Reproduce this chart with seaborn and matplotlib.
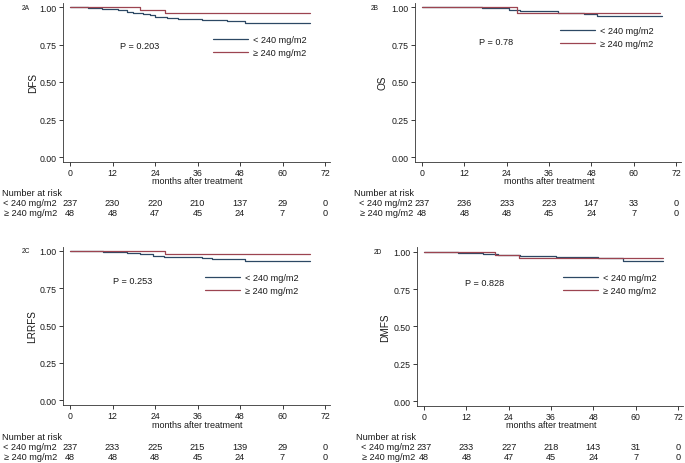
import numpy as np
import pandas as pd
import matplotlib
matplotlib.use("Agg")
import matplotlib.pyplot as plt
import seaborn as sns
from matplotlib.transforms import blended_transform_factory

# ---------------- data ----------------
groups = ["< 240 mg/m2", "≥ 240 mg/m2"]
risk_months = [0, 12, 24, 36, 48, 60, 72]

dfs_low_t = [0, 5, 9, 11.3, 13.6, 16, 17.8, 20.6, 22.6, 24, 27.4, 30.5, 37.2, 44.2, 49.4, 67.8]
dfs_low_s = [1.0, 0.996, 0.99, 0.984, 0.977, 0.968, 0.96, 0.951, 0.944, 0.935, 0.928, 0.918, 0.911, 0.904, 0.891, 0.891]
dfs_high_t = [0, 19.8, 26.8, 67.8]
dfs_high_s = [1.0, 0.978, 0.958, 0.958]
dfs_risk_low = [237, 230, 220, 210, 137, 29, 0]
dfs_risk_high = [48, 48, 47, 45, 24, 7, 0]

os_low_t = [0, 12.7, 17, 24.6, 27.8, 38.5, 46, 49.6, 68]
os_low_s = [1.0, 0.997, 0.992, 0.981, 0.972, 0.963, 0.956, 0.937, 0.937]
os_high_t = [0, 26.8, 67.5]
os_high_s = [1.0, 0.958, 0.958]
os_risk_low = [237, 236, 233, 223, 147, 33, 0]
os_risk_high = [48, 48, 48, 45, 24, 7, 0]

lrrfs_low_t = [0, 9.3, 12.1, 16, 19.8, 23.5, 26.5, 30, 37.2, 40, 49.4, 67.8]
lrrfs_low_s = [1.0, 0.995, 0.991, 0.985, 0.978, 0.969, 0.963, 0.958, 0.951, 0.945, 0.933, 0.933]
lrrfs_high_t = [0, 26.8, 67.8]
lrrfs_high_s = [1.0, 0.98, 0.98]
lrrfs_risk_low = [237, 233, 225, 215, 139, 29, 0]
lrrfs_risk_high = [48, 48, 48, 45, 24, 7, 0]

dmfs_low_t = [0, 5.4, 9.6, 16.7, 21, 24.3, 27.2, 37.4, 49.3, 56.4, 67.8]
dmfs_low_s = [1.0, 0.997, 0.992, 0.986, 0.981, 0.976, 0.971, 0.965, 0.955, 0.937, 0.937]
dmfs_high_t = [0, 20, 27, 67.8]
dmfs_high_s = [1.0, 0.979, 0.958, 0.958]
dmfs_risk_low = [237, 233, 227, 218, 143, 31, 0]
dmfs_risk_high = [48, 48, 47, 45, 24, 7, 0]

p_values = ["P = 0.203", "P = 0.78", "P = 0.253", "P = 0.828"]
endpoints = ["DFS", "OS", "LRRFS", "DMFS"]
tags = ["2A", "2B", "2C", "2D"]

# ---------------- style ----------------
sns.set_theme(style="white")
plt.rcParams["font.family"] = ["Liberation Sans", "DejaVu Sans"]
TXT = "#1a1a1a"
palette = {groups[0]: "#2c4864", "≥ 240 mg/m2": "#9c4450"}

W, H = 685, 464
fig = plt.figure(figsize=(W / 100, H / 100), dpi=100)
fig.patch.set_facecolor("white")

panel_data = [
    (dfs_low_t, dfs_low_s, dfs_high_t, dfs_high_s, dfs_risk_low, dfs_risk_high),
    (os_low_t, os_low_s, os_high_t, os_high_s, os_risk_low, os_risk_high),
    (lrrfs_low_t, lrrfs_low_s, lrrfs_high_t, lrrfs_high_s, lrrfs_risk_low, lrrfs_risk_high),
    (dmfs_low_t, dmfs_low_s, dmfs_high_t, dmfs_high_s, dmfs_risk_low, dmfs_risk_high),
]

layout = [
    dict(left=63, width=267, top=3.5, bottom=162.5, p=(14.1, 0.742), leg=(0.738, 0.726), yl=30, tag=22, rl=-3.7),
    dict(left=415, width=266, top=3.5, bottom=162.5, p=(16.2, 0.771), leg=(0.722, 0.783), yl=33, tag=371, rl=-2.6),
    dict(left=63, width=267, top=247.5, bottom=405.8, p=(12.2, 0.799), leg=(0.707, 0.763), yl=30.7, tag=22, rl=-3.7),
    dict(left=417, width=266, top=248.2, bottom=406.5, p=(11.5, 0.792), leg=(0.726, 0.768), yl=31.7, tag=374, rl=-2.6),
]

FS = 6.6
for i, (lay, dat) in enumerate(zip(layout, panel_data)):
    lt, ls, ht, hs, rlow, rhigh = dat
    hpx = lay["bottom"] - lay["top"]
    ax = fig.add_axes([lay["left"] / W, 1 - lay["bottom"] / H, lay["width"] / W, hpx / H])
    df = pd.DataFrame({
        "time": list(lt) + list(ht),
        "surv": list(ls) + list(hs),
        "group": [groups[0]] * len(lt) + [groups[1]] * len(ht),
    })
    sns.lineplot(data=df, x="time", y="surv", hue="group", hue_order=groups,
                 palette=palette, estimator=None, drawstyle="steps-post",
                 linewidth=0.9, legend=False, ax=ax)
    ax.set_xlim(-1.98, 73.4)
    ax.set_ylim(-0.03, 1.03)
    ax.set_xticks(risk_months)
    ax.set_yticks([0, 0.25, 0.5, 0.75, 1.0])
    ax.set_yticklabels([f"{v:.2f}" for v in [0, 0.25, 0.5, 0.75, 1.0]])
    ax.tick_params(bottom=True, left=True, direction="out", length=3, width=0.6,
                   pad=1.5, labelsize=6.3, colors=TXT)
    for s in ["top", "right"]:
        ax.spines[s].set_visible(False)
    for s in ["left", "bottom"]:
        ax.spines[s].set_color("#333333")
        ax.spines[s].set_linewidth(0.6)
    ax.set_facecolor("white")

    ax.set_xlabel("months after treatment", fontsize=6.5, color=TXT)
    ax.xaxis.set_label_coords((36 + 1.98) / 75.38, -15 / hpx)
    ax.set_ylabel(endpoints[i], fontsize=7.2, color=TXT)
    ax.yaxis.set_label_coords(-(lay["yl"] - 5) / lay["width"], 0.5)

    ax.text(lay["p"][0], lay["p"][1], p_values[i], fontsize=FS, color=TXT, va="center", ha="left")

    btr = blended_transform_factory(ax.transAxes, ax.transData)
    ax.text((lay["tag"] - lay["left"]) / lay["width"], 1.0, tags[i], transform=btr,
            fontsize=4.8, color=TXT, va="center", ha="left")

    ax.legend(handles=ax.lines[:2], labels=groups, loc="center",
              bbox_to_anchor=lay["leg"], frameon=False, fontsize=FS,
              handlelength=3.8, handletextpad=0.6, labelspacing=0.45,
              borderpad=0, labelcolor=TXT)

    tr = blended_transform_factory(ax.transData, ax.transAxes)
    y0, y1, y2 = -31.5 / hpx, -41.5 / hpx, -51.5 / hpx
    ax.text(-61 / lay["width"], y0, "Number at risk", transform=ax.transAxes, fontsize=FS,
            color=TXT, ha="left", va="center", clip_on=False)
    ax.text(lay["rl"], y1, groups[0], transform=tr, fontsize=FS,
            color=TXT, ha="right", va="center", clip_on=False)
    ax.text(lay["rl"], y2, groups[1], transform=tr, fontsize=FS,
            color=TXT, ha="right", va="center", clip_on=False)
    for m, a, b in zip(risk_months, rlow, rhigh):
        ax.text(m, y1, str(a), transform=tr, fontsize=FS, color=TXT,
                ha="center", va="center", clip_on=False)
        ax.text(m, y2, str(b), transform=tr, fontsize=FS, color=TXT,
                ha="center", va="center", clip_on=False)

fig.savefig("out.png", dpi=100, facecolor="white")
